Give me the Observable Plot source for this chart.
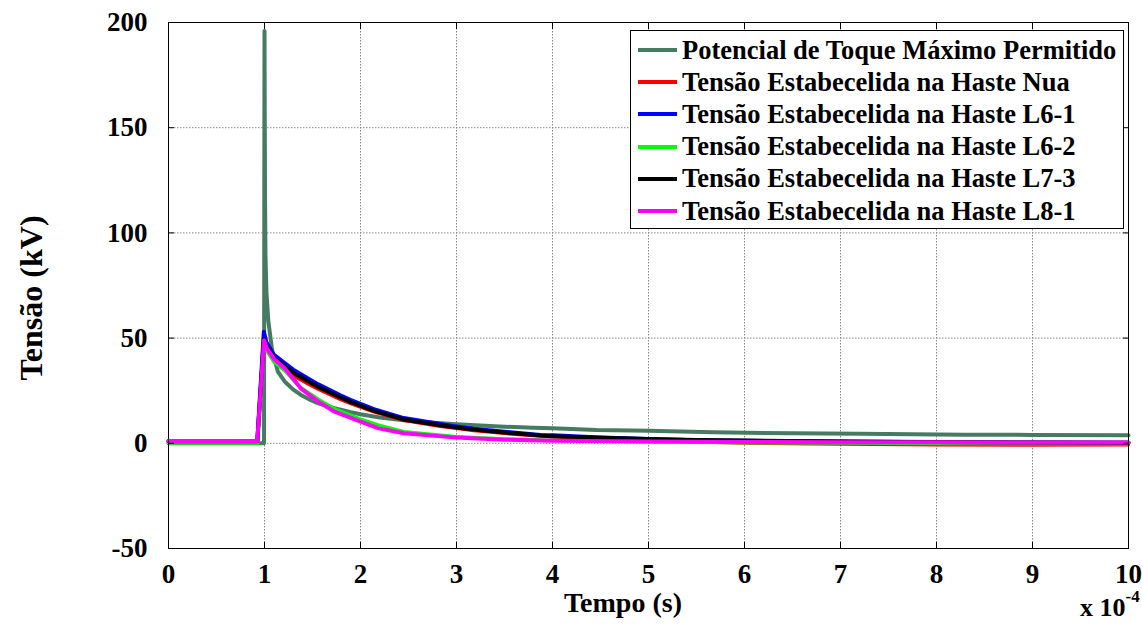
<!DOCTYPE html>
<html><head><meta charset="utf-8">
<script src="https://cdn.jsdelivr.net/npm/d3@7"></script>
<script src="https://cdn.jsdelivr.net/npm/@observablehq/plot@0.6"></script>
<style>
body{margin:0;background:#fff;}
#wrap{position:relative;width:1142px;height:624px;font-family:"Liberation Serif","Times New Roman",serif;font-weight:bold;color:#000;}
#wrap svg{position:absolute;left:0;top:0;}
.lbl{position:absolute;white-space:nowrap;line-height:1;}
#legend{position:absolute;left:630px;top:30px;width:494px;height:199px;border:1px solid #000;background:#fff;box-sizing:border-box;}
.row{position:absolute;left:0;height:32px;display:flex;align-items:center;font-size:26.5px;}
.sw{display:inline-block;width:39px;height:4px;margin-left:7px;margin-right:5px;}
</style></head><body><div id="wrap"></div>
<script>
// Series names and colours
const seriesNames = [
  "Potencial de Toque Máximo Permitido",
  "Tensão Estabecelida na Haste Nua",
  "Tensão Estabecelida na Haste L6-1",
  "Tensão Estabecelida na Haste L6-2",
  "Tensão Estabecelida na Haste L7-3",
  "Tensão Estabecelida na Haste L8-1"
];
const seriesColors = ["#477a62", "#ff0000", "#0000ff", "#00ff00", "#000000", "#ff00ff"];
const seriesWidths = [4, 3, 4, 3, 4, 4];

// Time in units of 1e-4 s, voltage in kV
const tPot = [0, 0.995, 1.0, 1.003, 1.006, 1.01, 1.02, 1.04, 1.08, 1.14, 1.21, 1.3, 1.38, 1.46, 1.56, 1.73, 1.9, 2.0, 2.2, 2.5, 2.8, 3.0, 3.2, 3.5, 3.8, 4.0, 4.46, 5.0, 5.67, 6.5, 7.2, 8.3, 9.0, 10.0];
const vPot = [0, 0, 196, 150, 115, 90, 72, 58, 44, 34, 29.4, 25.5, 23, 21, 19, 16.7, 14.8, 13.8, 12.3, 10.7, 9.6, 9.0, 8.6, 7.9, 7.4, 7.1, 6.3, 6.0, 5.2, 4.8, 4.5, 4.1, 4.0, 3.8];

const tNua = [0, 0.925, 0.993, 1.02, 1.1, 1.2, 1.3, 1.44, 1.56, 1.79, 1.9, 2.14, 2.45, 2.83, 3.0, 3.18, 3.5, 3.875, 4.0, 4.5, 5.0, 5.5, 6.0, 7.0, 8.0, 9.0, 10.0];
const vNua = [0.5, 0.5, 48, 45, 39, 35.5, 32, 28.5, 25.6, 20.8, 18.8, 14.8, 10.8, 8.0, 7.0, 6.0, 4.6, 3.3, 3.0, 2.0, 1.2, 0.6, 0.0, -0.5, -0.8, -0.9, -0.8];

const tL61 = [0, 0.925, 0.993, 1.02, 1.1, 1.2, 1.3, 1.44, 1.56, 1.79, 1.9, 2.14, 2.45, 2.83, 3.0, 3.18, 3.5, 3.875, 4.0, 4.5, 5.0, 5.5, 6.0, 7.0, 8.0, 9.0, 10.0];
const vL61 = [1, 1, 53, 48, 42, 38.5, 35, 31.2, 28, 22.8, 20.5, 16.2, 12, 9.2, 8.0, 6.9, 5.5, 4.0, 3.8, 2.8, 2.0, 1.5, 1.2, 0.8, 0.5, 0.4, 0.3];

const tL62 = [0, 0.93, 0.995, 1.02, 1.1, 1.21, 1.3, 1.38, 1.56, 1.73, 2.0, 2.19, 2.45, 3.0, 3.5, 4.0, 5.0, 6.0, 7.0, 8.0, 9.0, 10.0];
const vL62 = [0, 0, 47, 44, 38.5, 34.5, 30, 26.5, 21, 16.5, 11.6, 8.7, 5.6, 3.2, 2.2, 1.5, 0.6, 0.2, 0.0, -0.2, -0.3, -0.3];

const tL73 = [0, 0.925, 0.993, 1.02, 1.1, 1.2, 1.3, 1.44, 1.56, 1.79, 1.9, 2.14, 2.45, 2.83, 3.0, 3.18, 3.5, 3.875, 4.0, 4.5, 5.0, 5.5, 6.0, 7.0, 8.0, 9.0, 10.0];
const vL73 = [1, 1, 49.5, 46.5, 40.5, 37, 33.5, 29.8, 26.8, 21.8, 19.6, 15.4, 11.3, 8.6, 7.5, 6.5, 5.1, 3.7, 3.4, 2.6, 2.0, 1.6, 1.3, 0.9, 0.6, 0.4, 0.3];

const tL81 = [0, 0.925, 0.995, 1.02, 1.1, 1.21, 1.38, 1.56, 1.73, 2.0, 2.19, 2.45, 3.0, 3.5, 4.0, 5.0, 6.0, 7.0, 8.0, 9.0, 10.0];
const vL81 = [1.1, 1.1, 49, 45.5, 40, 35.7, 26, 19.8, 15, 10.3, 7.1, 4.8, 2.7, 1.7, 1.2, 0.8, 0.6, 0.5, 0.5, 0.4, 0.4];

const xTicks = [0, 1, 2, 3, 4, 5, 6, 7, 8, 9, 10];
const yTicks = [-50, 0, 50, 100, 150, 200];

const allT = [tPot, tNua, tL61, tL62, tL73, tL81];
const allV = [vPot, vNua, vL61, vL62, vL73, vL81];
const rows = [];
allT.forEach((ts, i) => ts.forEach((t, j) => rows.push({series: seriesNames[i], t, v: allV[i][j]})));

const lineMarks = seriesNames.map((name, i) =>
  Plot.line(rows.filter(r => r.series === name), {x: "t", y: "v", stroke: "series", strokeWidth: seriesWidths[i], strokeLinejoin: "round"})
);

const fmt = d => String(d);

const chart = Plot.plot({
  width: 1142, height: 624,
  marginLeft: 168, marginRight: 14, marginTop: 22, marginBottom: 76,
  style: {fontFamily: "'Liberation Serif','Times New Roman',serif", fontWeight: "bold", fontSize: "27px", color: "#000", background: "transparent"},
  x: {domain: [0, 10], ticks: xTicks},
  y: {domain: [-50, 200], ticks: yTicks},
  color: {domain: seriesNames, range: seriesColors},
  marks: [
    Plot.gridX(xTicks, {stroke: "#888", strokeOpacity: 1, strokeDasharray: "1.5,1.5"}),
    Plot.gridY(yTicks, {stroke: "#888", strokeOpacity: 1, strokeDasharray: "1.5,1.5"}),
    ...lineMarks,
    Plot.frame({stroke: "#000"}),
    Plot.axisX(xTicks, {anchor: "bottom", tickSize: -6, tickPadding: 21, tickFormat: fmt, label: null, fill: "#000"}),
    Plot.axisX(xTicks, {anchor: "top", tickSize: -6, tickFormat: () => "", label: null}),
    Plot.axisY(yTicks, {anchor: "left", tickSize: -6, tickPadding: 27, tickFormat: fmt, label: null, fill: "#000"}),
    Plot.axisY(yTicks, {anchor: "right", tickSize: -6, tickFormat: () => "", label: null})
  ]
});

const wrap = document.getElementById("wrap");
wrap.appendChild(chart);

function addLabel(html, css) {
  const d = document.createElement("div");
  d.className = "lbl";
  d.innerHTML = html;
  Object.assign(d.style, css);
  wrap.appendChild(d);
  return d;
}
addLabel("Tempo (s)", {left: "623px", top: "589px", fontSize: "28px", transform: "translateX(-50%)"});
addLabel("Tensão (kV)", {left: "31px", top: "298px", fontSize: "32px", transform: "translate(-50%,-50%) rotate(-90deg)"});
addLabel("x 10<sup style='font-size:17px;position:relative;top:-4px'>-4</sup>", {left: "1080px", top: "592px", fontSize: "26px"});

const legend = document.createElement("div");
legend.id = "legend";
seriesNames.forEach((name, i) => {
  const r = document.createElement("div");
  r.className = "row";
  r.style.top = (3 + i * 32.2) + "px";
  const sw = document.createElement("span");
  sw.className = "sw";
  sw.style.background = seriesColors[i];
  r.appendChild(sw);
  const tx = document.createElement("span");
  tx.textContent = name;
  r.appendChild(tx);
  legend.appendChild(r);
});
wrap.appendChild(legend);
</script></body></html>
